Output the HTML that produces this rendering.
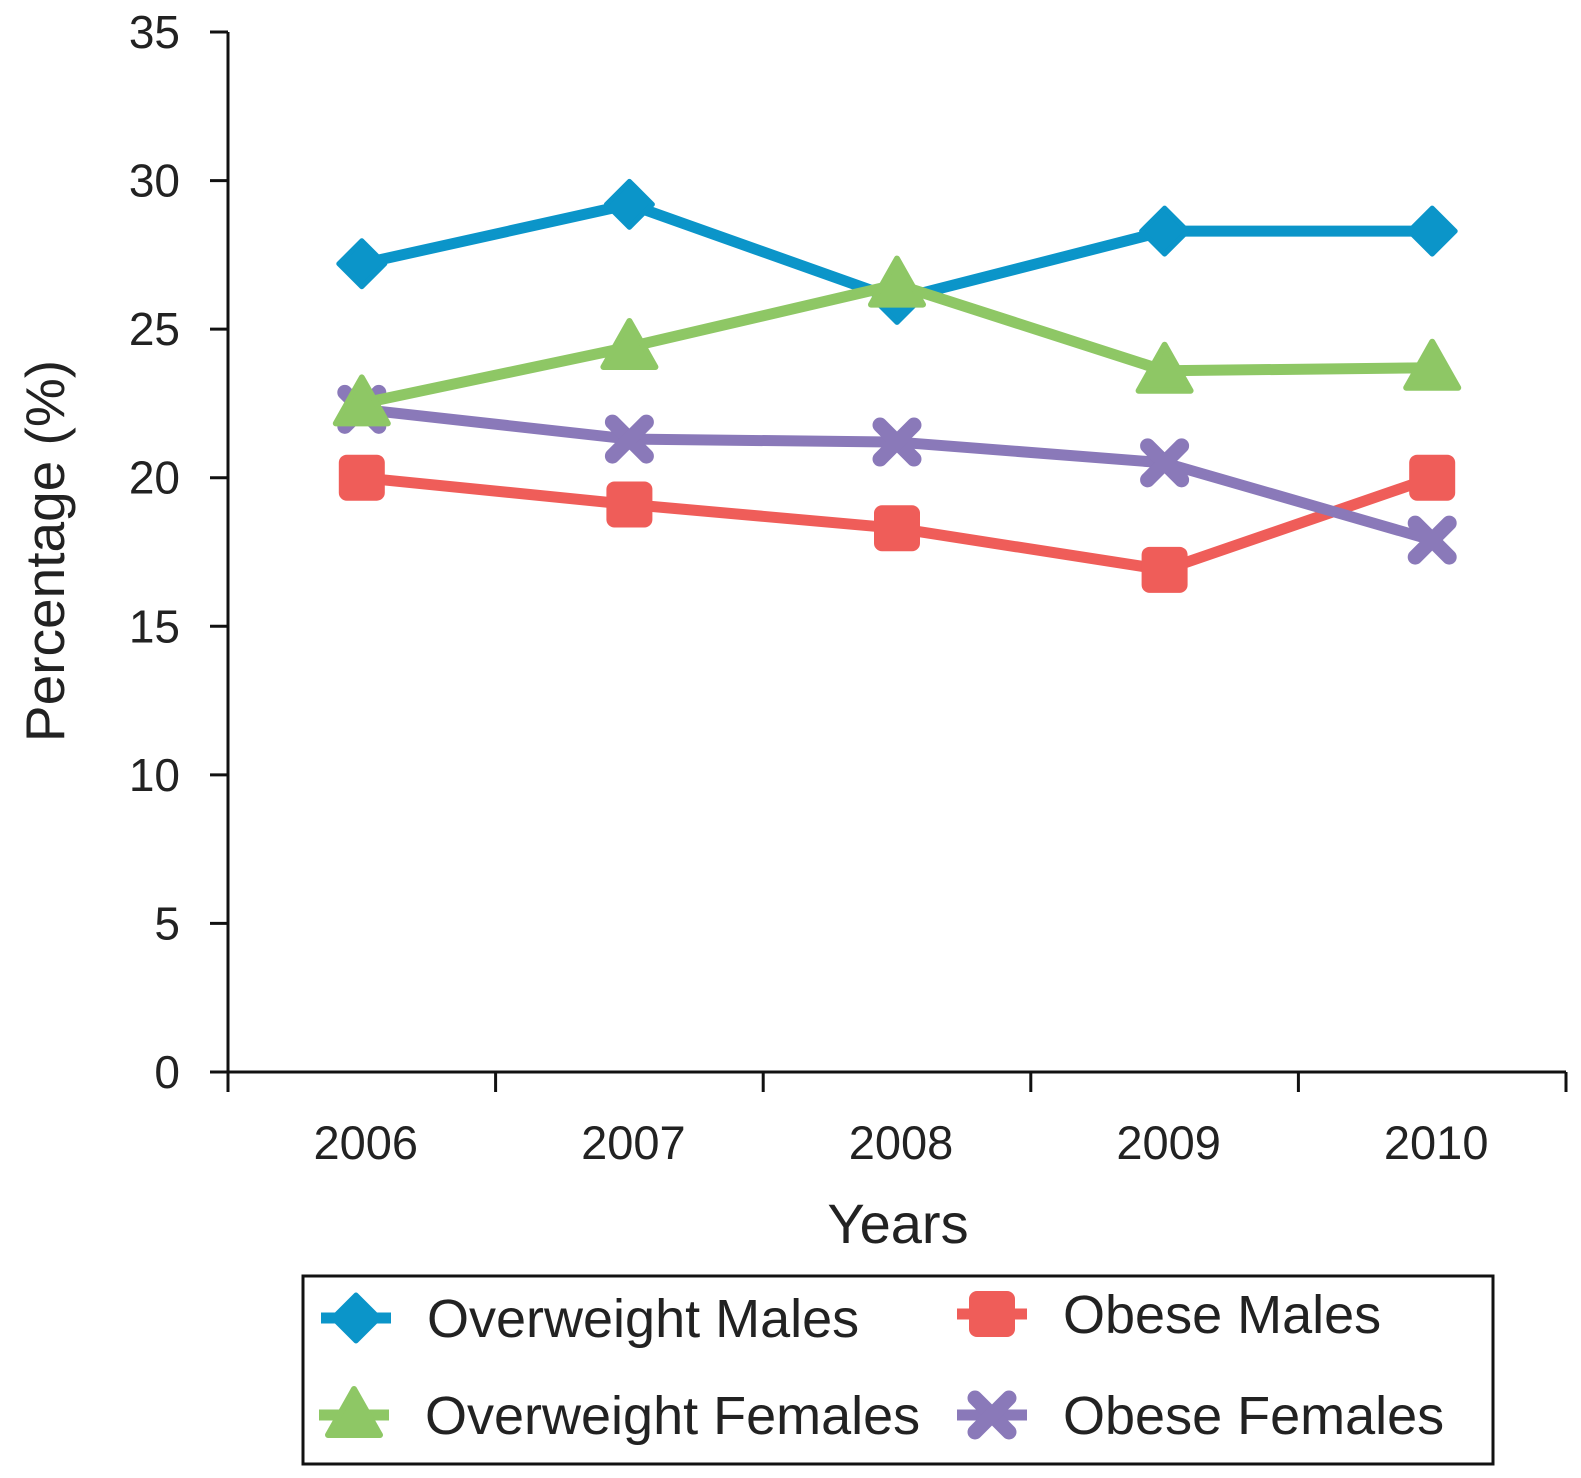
<!DOCTYPE html>
<html><head><meta charset="utf-8"><style>
html,body{margin:0;padding:0;background:#fff}
svg{display:block;font-family:"Liberation Sans",Arial,sans-serif}
</style></head><body>
<svg id="chart" width="1581" height="1478" viewBox="0 0 1581 1478">
<g id="axes"></g><g id="series"></g><g id="legend"></g>
</svg>
<script>
const categories = ["2006","2007","2008","2009","2010"];
const owMales = [27.2, 29.2, 26.0, 28.3, 28.3];
const owFemales = [22.5, 24.4, 26.5, 23.6, 23.7];
const obMales = [20.0, 19.1, 18.3, 16.9, 20.0];
const obFemales = [22.3, 21.3, 21.2, 20.5, 17.9];
const yTicks = [0,5,10,15,20,25,30,35];

const NS="http://www.w3.org/2000/svg";
const X0=228, X1=1566, Y0=1072, Y1=32, YMAX=35;
const band=(X1-X0)/categories.length;
function xs(i){return X0+band*(i+0.5);}
function ys(v){return Y0-(v/YMAX)*(Y0-Y1);}
function mk(tag,attrs,parent){const e=document.createElementNS(NS,tag);for(const k in attrs)e.setAttribute(k,attrs[k]);parent.appendChild(e);return e;}
const axes=document.getElementById('axes'), ser=document.getElementById('series'), leg=document.getElementById('legend');

let a=mk('line',{x1:X0,y1:Y1,x2:X0,y2:Y0,stroke:'#111','stroke-width':3},axes);


a=mk('line',{x1:X0,y1:Y0,x2:X1,y2:Y0,stroke:'#111','stroke-width':3},axes);


yTicks.forEach(t=>{
  mk('line',{x1:X0-18,y1:ys(t),x2:X0,y2:ys(t),stroke:'#111','stroke-width':3},axes);
  const tx=mk('text',{x:180,y:ys(t)+16,'text-anchor':'end','font-size':46,fill:'#222'},axes);
  tx.textContent=t;
  
  
});
for(let i=0;i<=categories.length;i++){
  mk('line',{x1:X0+band*i,y1:Y0,x2:X0+band*i,y2:Y0+20,stroke:'#111','stroke-width':3},axes);
}
categories.forEach((c,i)=>{
  const tx=mk('text',{x:xs(i)+4,y:1159,'text-anchor':'middle','font-size':47,fill:'#222'},axes);
  tx.textContent=c;
  
  
});
let t=mk('text',{x:898,y:1243,'text-anchor':'middle','font-size':56,fill:'#222'},axes);
t.textContent='Years';


t=mk('text',{x:0,y:0,'text-anchor':'middle','font-size':55,fill:'#222',transform:'translate(64,551) rotate(-90)'},axes);
t.textContent='Percentage (%)';



function marker(type,x,y,color,g){
  if(type==='diamond') return mk('polygon',{points:`${x},${y-23} ${x+23},${y} ${x},${y+23} ${x-23},${y}`,fill:color,stroke:color,'stroke-width':5,'stroke-linejoin':'round'},g);
  if(type==='square') return mk('rect',{x:x-23,y:y-23,width:46,height:46,rx:8,fill:color},g);
  if(type==='triangle') return mk('polygon',{points:`${x},${y-26} ${x+26},${y+20} ${x-26},${y+20}`,fill:color,'stroke-linejoin':'round',stroke:color,'stroke-width':6},g);
  const gg=mk('g',{},g);
  mk('line',{x1:x-17,y1:y-17,x2:x+17,y2:y+17,stroke:color,'stroke-width':15,'stroke-linecap':'round'},gg);
  mk('line',{x1:x-17,y1:y+17,x2:x+17,y2:y-17,stroke:color,'stroke-width':15,'stroke-linecap':'round'},gg);
  return gg;
}
const series=[
 {name:'Overweight Males',data:owMales,color:'#0b95c9',m:'diamond',key:'overweight-males'},
 {name:'Obese Males',data:obMales,color:'#ef5d59',m:'square',key:'obese-males'},
 {name:'Overweight Females',data:owFemales,color:'#8ec765',m:'triangle',key:'overweight-females'},
 {name:'Obese Females',data:obFemales,color:'#8a79b9',m:'x',key:'obese-females'}
];
const order=[0,1,3,2];
order.forEach(k=>{
  const s=series[k];
  const g=mk('g',{},ser);
  
  
  const pl=mk('polyline',{points:s.data.map((v,i)=>xs(i)+','+ys(v)).join(' '),fill:'none',stroke:s.color,'stroke-width':11,'stroke-linejoin':'round'},g);
  
  
  s.data.forEach((v,i)=>{
    const m=marker(s.m,xs(i),ys(v),s.color,g);
    
    
  });
});
const box=mk('rect',{x:303,y:1276,width:1190,height:188,fill:'none',stroke:'#111','stroke-width':3},leg);


const pos=[[356,1318],[992,1314],[354,1415],[992,1415]];
series.forEach((s,k)=>{
  const [x,y]=pos[k];
  const g=mk('g',{},leg);
  
  
  mk('line',{x1:x-35,y1:y,x2:x+35,y2:y,stroke:s.color,'stroke-width':11},g);
  marker(s.m,x,y,s.color,g);
  const tx=mk('text',{x:x+71,y:y+19,'font-size':54,fill:'#222'},g);
  tx.textContent=s.name;
});
</script>
</body></html>
